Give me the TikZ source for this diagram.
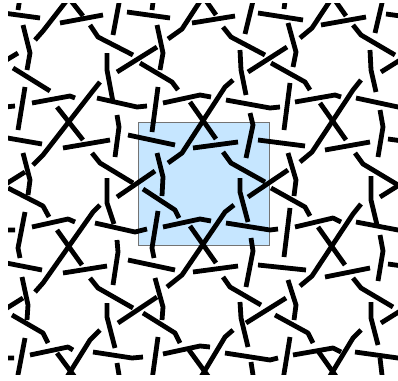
\documentclass[tikz,border=0pt]{standalone}
\usepackage{xcolor}
\usepackage{tikz}
\definecolor{cellblue}{RGB}{198,230,255}
\begin{document}
\begin{tikzpicture}[x=1pt, y=-1pt,
        rod/.style={line width=4.8pt, line cap=butt, line join=round, draw=black},
        cell/.style={fill=cellblue, draw=black!55, line width=0.8pt}
    ]
        \useasboundingbox (0,0) rectangle (398,380);
        % Unit cell
        \draw[cell] (138,122) rectangle (269,245);

        \begin{scope}
            \clip (8,3) rectangle (398,374);
            % Straight horizontal rods
            \draw[rod] (-4,12) -- (40,18);   \draw[rod] (60,23) -- (103,15);
            \draw[rod] (127,12) -- (170,18); \draw[rod] (192,23) -- (235,16);
            \draw[rod] (258,13) -- (303,20); \draw[rod] (321,25) -- (366,17);
            \draw[rod] (386,14) -- (430,20);
            \draw[rod] (-4,136) -- (42,144); \draw[rod] (63,148) -- (110,140);
            \draw[rod] (128,135) -- (175,145); \draw[rod] (193,148) -- (238,142);
            \draw[rod] (258,140) -- (305,146); \draw[rod] (325,150) -- (370,142);
            \draw[rod] (388,139) -- (432,145);
            \draw[rod] (-4,261) -- (42,270); \draw[rod] (63,273) -- (107,266);
            \draw[rod] (128,260) -- (175,270); \draw[rod] (193,272) -- (238,266);
            \draw[rod] (258,265) -- (306,270); \draw[rod] (325,277) -- (370,268);
            \draw[rod] (388,264) -- (432,270);

            % Bent horizontal rods
            \draw[rod] (-35,98) -- (5,107) -- (15,106);
            \draw[rod] (32,103) -- (70,96) -- (75,98);
            \draw[rod] (97,98) -- (137,107) -- (147,106);
            \draw[rod] (163,103) -- (200,95) -- (211,97);
            \draw[rod] (226,100) -- (270,108) -- (280,107);
            \draw[rod] (295,102) -- (335,95) -- (341,97);
            \draw[rod] (356,98) -- (398,107) -- (408,106);
            \draw[rod] (-35,221) -- (5,230) -- (15,230);
            \draw[rod] (32,227) -- (68,219) -- (75,222);
            \draw[rod] (95,223) -- (135,232) -- (147,229);
            \draw[rod] (163,227) -- (200,219) -- (211,221);
            \draw[rod] (226,223) -- (270,230) -- (278,229);
            \draw[rod] (295,227) -- (333,218) -- (341,222);
            \draw[rod] (356,222) -- (398,230) -- (408,229);
            \draw[rod] (-35,349) -- (5,358) -- (14,358);
            \draw[rod] (30,355) -- (68,347) -- (73,350);
            \draw[rod] (93,352) -- (132,358) -- (143,357);
            \draw[rod] (163,354) -- (200,346) -- (210,347);
            \draw[rod] (225,353) -- (270,360) -- (278,358);
            \draw[rod] (293,355) -- (333,348) -- (341,352);
            \draw[rod] (355,352) -- (398,358) -- (408,357);

            % Vertical rods
            \draw[rod] (25,-33) -- (18,10);
            \draw[rod] (118,-5) -- (119,3) -- (113,35);
            \draw[rod] (158,-37) -- (152,10);
            \draw[rod] (251,-11) -- (253,1) -- (245,34);
            \draw[rod] (290,-37) -- (284,9);
            \draw[rod] (382,-10) -- (382,3) -- (375,33);
            \draw[rod] (23,25) -- (30,53) -- (27,70);
            \draw[rod] (107,53) -- (107,70) -- (113,102);
            \draw[rod] (157,25) -- (163,53) -- (160,70);
            \draw[rod] (240,50) -- (241,70) -- (246,95);
            \draw[rod] (288,23) -- (296,52) -- (293,67);
            \draw[rod] (370,50) -- (371,70) -- (376,92);
            \draw[rod] (25,87) -- (18,130);
            \draw[rod] (117,115) -- (119,127) -- (115,157);
            \draw[rod] (158,87) -- (152,132);
            \draw[rod] (250,113) -- (253,125) -- (246,158);
            \draw[rod] (290,83) -- (284,130);
            \draw[rod] (380,110) -- (383,127) -- (378,157);
            \draw[rod] (23,153) -- (30,180) -- (28,195);
            \draw[rod] (107,178) -- (107,203) -- (114,224);
            \draw[rod] (157,153) -- (163,177) -- (162,196);
            \draw[rod] (240,178) -- (240,192) -- (248,222);
            \draw[rod] (288,153) -- (296,180) -- (294,196);
            \draw[rod] (371,176) -- (371,200) -- (377,225);
            \draw[rod] (25,212) -- (18,248) -- (20,258);
            \draw[rod] (117,240) -- (118,252) -- (113,285);
            \draw[rod] (158,211) -- (152,248) -- (154,258);
            \draw[rod] (251,238) -- (253,251) -- (246,287);
            \draw[rod] (290,208) -- (284,257);
            \draw[rod] (380,235) -- (383,251) -- (378,281);
            \draw[rod] (22,277) -- (28,305) -- (27,320);
            \draw[rod] (107,303) -- (107,317) -- (115,348);
            \draw[rod] (155,278) -- (163,307) -- (162,320);
            \draw[rod] (240,302) -- (241,318) -- (248,347);
            \draw[rod] (288,280) -- (296,305) -- (294,320);
            \draw[rod] (371,302) -- (371,318) -- (378,345);
            \draw[rod] (25,338) -- (17,380);
            \draw[rod] (117,363) -- (119,375) -- (117,400);
            \draw[rod] (158,337) -- (152,380);
            \draw[rod] (251,362) -- (253,375) -- (250,400);
            \draw[rod] (290,337) -- (283,380);
            \draw[rod] (380,358) -- (382,375) -- (380,400);

            % Short rising rods
            \draw[rod] (-22,77) -- (18,53);   \draw[rod] (117,72) -- (157,47);
            \draw[rod] (248,72) -- (287,47);  \draw[rod] (381,72) -- (421,47);
            \draw[rod] (-15,197) -- (25,172); \draw[rod] (117,197) -- (155,171);
            \draw[rod] (248,197) -- (288,170); \draw[rod] (380,197) -- (420,172);
            \draw[rod] (-17,323) -- (23,298); \draw[rod] (118,323) -- (157,297);
            \draw[rod] (246,323) -- (286,298); \draw[rod] (381,323) -- (421,298);

            % Bent falling rods
            \draw[rod] (90,25) -- (98,37) -- (133,55);
            \draw[rod] (223,27) -- (231,37) -- (265,55);
            \draw[rod] (353,25) -- (361,35) -- (395,55);
            \draw[rod] (13,68) -- (50,91);
            \draw[rod] (140,63) -- (172,82) -- (178,90);
            \draw[rod] (271,63) -- (305,82) -- (310,90);
            \draw[rod] (92,153) -- (100,163) -- (133,183);
            \draw[rod] (223,152) -- (231,163) -- (265,182);
            \draw[rod] (355,153) -- (363,164) -- (398,185);
            \draw[rod] (8,188) -- (43,206) -- (49,217);
            \draw[rod] (143,189) -- (175,210) -- (179,218);
            \draw[rod] (271,188) -- (305,207) -- (310,216);
            \draw[rod] (90,278) -- (98,288) -- (133,308);
            \draw[rod] (223,277) -- (230,287) -- (261,305);
            \draw[rod] (353,278) -- (361,288) -- (393,307);
            \draw[rod] (12,315) -- (43,333) -- (48,343);
            \draw[rod] (143,313) -- (175,333) -- (180,343);
            \draw[rod] (275,315) -- (308,333) -- (313,343);

            % Long rising rods
            \draw[rod] (92,-32) -- (43,31) -- (35,40);
            \draw[rod] (225,-37) -- (182,29) -- (168,39);
            \draw[rod] (353,-34) -- (312,28) -- (300,38);
            \draw[rod] (100,82) -- (92,92) -- (43,155) -- (33,165);
            \draw[rod] (233,80) -- (225,87) -- (182,153) -- (168,163);
            \draw[rod] (361,80) -- (353,90) -- (312,152) -- (300,162);
            \draw[rod] (100,205) -- (93,212) -- (43,283) -- (35,292);
            \draw[rod] (234,205) -- (225,212) -- (182,275) -- (167,287);
            \draw[rod] (361,204) -- (353,214) -- (312,276) -- (300,286);
            \draw[rod] (100,330) -- (90,340) -- (62,385);
            \draw[rod] (233,330) -- (225,337) -- (198,382);
            \draw[rod] (361,330) -- (353,338) -- (330,376);

            % Short crossing rods
            \draw[rod] (57,-17) -- (83,16);   \draw[rod] (190,-22) -- (216,15);
            \draw[rod] (320,-21) -- (346,16);
            \draw[rod] (57,107) -- (83,140);  \draw[rod] (190,102) -- (216,139);
            \draw[rod] (320,103) -- (346,140);
            \draw[rod] (57,230) -- (82,265);  \draw[rod] (190,226) -- (216,263);
            \draw[rod] (318,227) -- (345,265);
            \draw[rod] (57,353) -- (83,388);  \draw[rod] (189,350) -- (216,387);
            \draw[rod] (318,351) -- (345,389);
        \end{scope}
    \end{tikzpicture}
\end{document}
